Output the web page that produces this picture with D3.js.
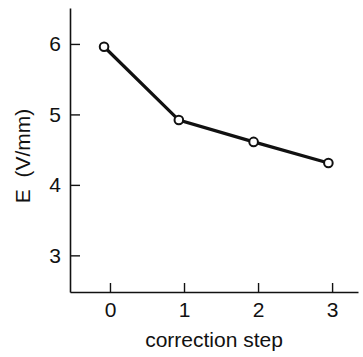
<!DOCTYPE html>
<html>
<head>
<meta charset="utf-8">
<script src="https://cdn.jsdelivr.net/npm/d3@7"></script>
<style>
  body { margin: 0; background: #fff; }
  text { font-family: "Liberation Sans", Arial, sans-serif; fill: #111; }
</style>
</head>
<body>
<div id="chart"></div>
<script>
  // correction step vs field strength
  const steps = [-0.08, 0.93, 1.94, 2.95];
  const fieldE = [5.96, 4.92, 4.61, 4.31];
  const xTicks = [0, 1, 2, 3];
  const yTicks = [3, 4, 5, 6];

  const W = 363, H = 357;
  const margin = { top: 8, right: 5, bottom: 65, left: 70 };
  const width = W - margin.left - margin.right;
  const height = H - margin.top - margin.bottom;

  const svg = d3
    .select("#chart")
    .append("svg")
    .attr("width", W)
    .attr("height", H);

  const g = svg
    .append("g")
    .attr("transform", `translate(${margin.left},${margin.top})`);

  const x = d3.scaleLinear().domain([-0.54, 3.35]).range([0, width]);
  const y = d3.scaleLinear().domain([2.48, 6.51]).range([height, 0]);

  const xAxis = g
    .append("g")
    .attr("transform", `translate(0,${height})`)
    .call(
      d3.axisBottom(x).tickValues(xTicks).tickFormat(d3.format("d"))
        .tickSizeInner(-9).tickSizeOuter(0).tickPadding(10)
    );
  const yAxis = g
    .append("g")
    .call(
      d3.axisLeft(y).tickValues(yTicks).tickFormat(d3.format("d"))
        .tickSizeInner(-10).tickSizeOuter(0).tickPadding(9)
    );

  [xAxis, yAxis].forEach((a) => {
    a.select(".domain").attr("stroke", "#111").attr("stroke-width", 1.6);
    a.selectAll(".tick line").attr("stroke", "#111").attr("stroke-width", 1.4);
    a.selectAll("text").style("font-size", "21px").attr("fill", "#111");
  });

  const pts = steps.map((s, i) => [s, fieldE[i]]);

  g.append("path")
    .datum(pts)
    .attr("fill", "none")
    .attr("stroke", "#111")
    .attr("stroke-width", 3.2)
    .attr("d", d3.line().x((d) => x(d[0])).y((d) => y(d[1])));

  g.selectAll("circle")
    .data(pts)
    .enter()
    .append("circle")
    .attr("cx", (d) => x(d[0]))
    .attr("cy", (d) => y(d[1]))
    .attr("r", 4.3)
    .attr("fill", "#fff")
    .attr("stroke", "#111")
    .attr("stroke-width", 2);

  svg
    .append("text")
    .attr("x", 214)
    .attr("y", 347)
    .attr("text-anchor", "middle")
    .style("font-size", "21px")
    .text("correction step");

  svg
    .append("text")
    .attr("transform", "translate(30,156) rotate(-90)")
    .attr("text-anchor", "middle")
    .style("font-size", "21px")
    .style("white-space", "pre")
    .text("E  (V/mm)");
</script>
</body>
</html>
